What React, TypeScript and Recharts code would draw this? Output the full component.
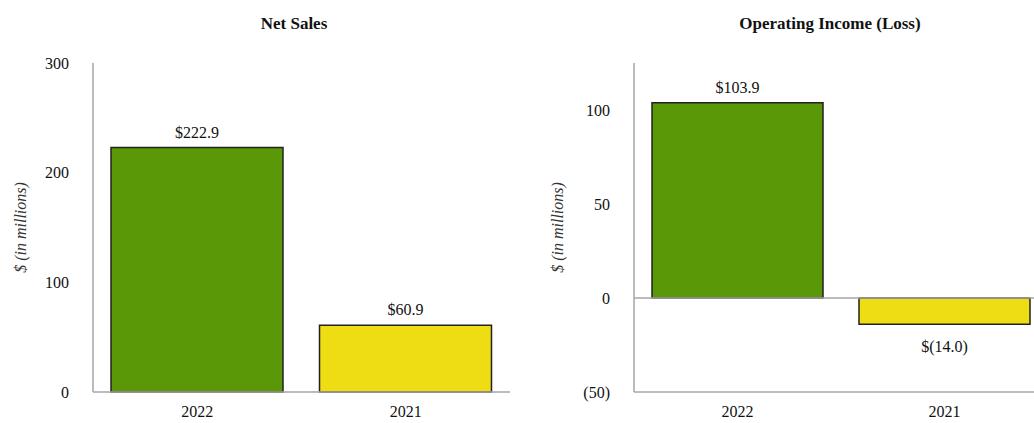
import * as React from "react";
import { BarChart, Bar, XAxis, YAxis, ReferenceLine, LabelList } from "recharts";

const years = ["2022", "2021"];
const netSales = [222.9, 60.9];
const operatingIncome = [103.9, -14.0];
const netSalesTicks = [0, 100, 200, 300];
const opIncomeTicks = [-50, 0, 50, 100];
const barColors = ["#5B9807", "#EDDD12"];

const FONT = "Liberation Serif, Times New Roman, DejaVu Serif, serif";
const AXIS_GRAY = "#a6a6a6";

const salesData = years.map((y, i) => ({ year: y, value: netSales[i], fill: barColors[i] }));
const incomeData = years.map((y, i) => ({ year: y, value: operatingIncome[i], fill: barColors[i] }));

function money(v: number) {
  return v < 0 ? `$(${Math.abs(v).toFixed(1)})` : `$${v.toFixed(1)}`;
}

function tickFmt(v: number) {
  return v < 0 ? `(${Math.abs(v)})` : `${v}`;
}

// label above positive bars, below negative ones
const ValueLabel = (props: any) => {
  const { x, y, width, height, value } = props;
  const top = Math.min(y, y + height);
  const bottom = Math.max(y, y + height);
  const cx = x + width / 2;
  const ty = value >= 0 ? top - 10 : bottom + 28;
  return (
    <text x={cx} y={ty} textAnchor="middle" style={{ fontFamily: FONT }} fontSize={16} fill="#111">
      {money(value)}
    </text>
  );
};

const axisTitle = (dx: number) => (p: any) => {
  const vb = p.viewBox;
  const cx = dx;
  const cy = vb.y + vb.height / 2;
  return (
    <text
      x={cx}
      y={cy}
      transform={`rotate(-90 ${cx} ${cy})`}
      textAnchor="middle"
      dominantBaseline="central"
      style={{ fontFamily: FONT, fontStyle: "italic" }}
      fontSize={16}
      fill="#333"
    >
      $ (in millions)
    </text>
  );
};

const titleStyle: React.CSSProperties = {
  position: "absolute",
  top: 14,
  fontFamily: FONT,
  fontWeight: "bold",
  fontSize: 17,
  color: "#111",
  textAlign: "center",
};

export default function App() {
  const tickStyle = { fill: "#111", fontSize: 16, style: { fontFamily: FONT } };
  return (
    <div
      style={{
        position: "absolute",
        left: 0,
        top: 0,
        width: 1034,
        height: 423,
        overflow: "hidden",
        background: "#fff",
        fontFamily: FONT,
      }}
    >
      <div style={{ ...titleStyle, left: 194, width: 200 }}>Net Sales</div>
      <div style={{ ...titleStyle, left: 680, width: 300 }}>Operating Income (Loss)</div>

      <div style={{ position: "absolute", left: 0, top: 0 }}>
        <BarChart
          width={510}
          height={423}
          data={salesData}
          margin={{ top: 63, right: 0, bottom: 0, left: 0 }}
          style={{ fontFamily: FONT }}
        >
          <XAxis
            dataKey="year"
            height={31}
            tickLine={false}
            tickSize={0}
            tickMargin={14}
            tick={tickStyle}
            axisLine={{ stroke: AXIS_GRAY, strokeWidth: 1.5 }}
          />
          <YAxis
            width={93}
            domain={[0, 300]}
            ticks={netSalesTicks}
            tickLine={false}
            tickSize={0}
            tickMargin={24}
            tick={tickStyle}
            axisLine={{ stroke: AXIS_GRAY, strokeWidth: 1.5 }}
            label={axisTitle(20)}
          />
          <Bar
            dataKey="value"
            barSize={172}
            stroke="#222"
            strokeWidth={1.5}
            isAnimationActive={false}
          >
            <LabelList dataKey="value" content={ValueLabel} />
          </Bar>
        </BarChart>
      </div>

      <div style={{ position: "absolute", left: 520, top: 0 }}>
        <BarChart
          width={528}
          height={423}
          data={incomeData}
          margin={{ top: 63, right: 0, bottom: 0, left: 0 }}
          style={{ fontFamily: FONT }}
        >
          <XAxis
            dataKey="year"
            height={31}
            tickLine={false}
            tickSize={0}
            tickMargin={14}
            tick={tickStyle}
            axisLine={{ stroke: AXIS_GRAY, strokeWidth: 1.5 }}
          />
          <YAxis
            width={114}
            domain={[-50, 125]}
            ticks={opIncomeTicks}
            tickFormatter={tickFmt}
            tickLine={false}
            tickSize={0}
            tickMargin={24}
            tick={tickStyle}
            axisLine={{ stroke: AXIS_GRAY, strokeWidth: 1.5 }}
            label={axisTitle(37)}
          />
          <ReferenceLine y={0} stroke={AXIS_GRAY} strokeWidth={1.5} />
          <Bar
            dataKey="value"
            barSize={171}
            stroke="#222"
            strokeWidth={1.5}
            isAnimationActive={false}
          >
            <LabelList dataKey="value" content={ValueLabel} />
          </Bar>
        </BarChart>
      </div>
    </div>
  );
}
